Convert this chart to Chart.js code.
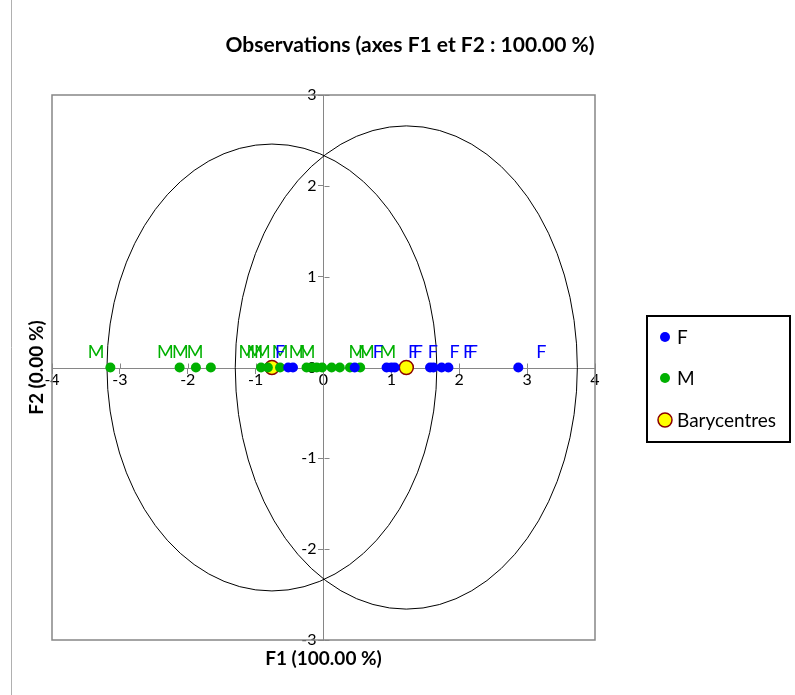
<!DOCTYPE html>
<html>
<head>
<meta charset="utf-8">
<script src="https://cdn.jsdelivr.net/npm/chart.js@4.4.1/dist/chart.umd.min.js"></script>
<style>
  html, body { margin: 0; padding: 0; background: #fff; }
</style>
</head>
<body>
<canvas id="chart" width="795" height="695"></canvas>
<script>
// F1 coordinates of the observations (F2 is 0 for all of them)
const fValues = [-0.52, -0.45, 0.46, 0.93, 1.00, 1.05, 1.57, 1.62, 1.74, 1.84, 2.87];
const mValues = [-3.14, -2.12, -1.88, -1.66, -0.92, -0.82, -0.64, -0.25, -0.17, -0.10, -0.02, 0.12, 0.24, 0.39, 0.54];
const baryNames = ['F', 'M'];
const baryValues = [1.22, -0.76];

// where the observation labels sit along F1
const fLabelPos = [-0.64, 0.80, 1.32, 1.39, 1.61, 1.93, 2.13, 2.20, 3.21];
const mLabelPos = [-3.35, -2.33, -2.11, -1.89, -1.13, -1.01, -0.90, -0.64, -0.39, -0.24, 0.49, 0.63, 0.95];

// confidence ellipses around the barycentres (F, M)
const ellipseCx = [1.22, -0.76];
const ellipseRx = [2.52, 2.43];
const ellipseRy = [2.66, 2.46];

const BLUE = '#0000ff';
const GREEN = '#00b000';
const AXIS = '#868686';
const FONT = 'Lato, "Open Sans", sans-serif';

const toPoints = (vals) => vals.map(v => ({ x: v, y: 0 }));

const overlay = {
  id: 'overlay',
  beforeDraw(chart) {
    const { ctx } = chart;
    ctx.save();
    ctx.fillStyle = '#fff';
    ctx.fillRect(0, 0, chart.width, chart.height);
    // outer frame
    ctx.strokeStyle = '#b0b0b0';
    ctx.lineWidth = 1;
    ctx.beginPath();
    ctx.moveTo(11.5, 0);
    ctx.lineTo(11.5, chart.height);
    ctx.stroke();
    ctx.restore();
  },
  beforeDatasetsDraw(chart) {
    const { ctx, chartArea: a, scales: { x, y } } = chart;
    ctx.save();
    // plot frame
    ctx.strokeStyle = AXIS;
    ctx.lineWidth = 1.5;
    ctx.strokeRect(a.left, a.top, a.right - a.left, a.bottom - a.top);
    // other half of the tick marks, so they cross the axes
    ctx.lineWidth = 1;
    const x0 = Math.round(x.getPixelForValue(0)) + 0.5;
    const y0 = Math.round(y.getPixelForValue(0)) + 0.5;
    ctx.beginPath();
    x.ticks.forEach(t => {
      const px = Math.round(x.getPixelForValue(t.value)) + 0.5;
      ctx.moveTo(px, y0);
      ctx.lineTo(px, y0 - 5);
    });
    y.ticks.forEach(t => {
      const py = Math.round(y.getPixelForValue(t.value)) + 0.5;
      ctx.moveTo(x0, py);
      ctx.lineTo(x0 + 5, py);
    });
    ctx.stroke();
    // ellipses
    ctx.strokeStyle = '#000';
    ctx.lineWidth = 1;
    ellipseCx.forEach((cx, i) => {
      const px = x.getPixelForValue(cx);
      const py = y.getPixelForValue(0);
      const rx = x.getPixelForValue(cx + ellipseRx[i]) - px;
      const ry = py - y.getPixelForValue(ellipseRy[i]);
      ctx.beginPath();
      ctx.ellipse(px, py, rx, ry, 0, 0, Math.PI * 2);
      ctx.stroke();
    });
    // observation labels
    ctx.font = '18px ' + FONT;
    ctx.textAlign = 'center';
    ctx.textBaseline = 'middle';
    const ly = y.getPixelForValue(0) - 15;
    ctx.fillStyle = GREEN;
    mLabelPos.forEach(v => ctx.fillText('M', x.getPixelForValue(v), ly));
    ctx.fillStyle = BLUE;
    fLabelPos.forEach(v => ctx.fillText('F', x.getPixelForValue(v), ly));
    ctx.restore();
  },
  afterDraw(chart) {
    const { ctx, chartArea: a } = chart;
    ctx.save();
    ctx.fillStyle = '#000';
    ctx.textAlign = 'center';
    ctx.textBaseline = 'middle';
    ctx.font = 'bold 21px ' + FONT;
    ctx.fillText('Observations (axes F1 et F2 : 100.00 %)', 410, 45);
    ctx.font = 'bold 19px ' + FONT;
    ctx.fillText('F1 (100.00 %)', (a.left + a.right) / 2, 659);
    ctx.translate(37, (a.top + a.bottom) / 2);
    ctx.rotate(-Math.PI / 2);
    ctx.fillText('F2 (0.00 %)', 0, 0);
    ctx.restore();

    // legend
    ctx.save();
    ctx.strokeStyle = '#000';
    ctx.lineWidth = 2;
    ctx.strokeRect(647, 316, 143, 126);
    ctx.font = '19px ' + FONT;
    ctx.textBaseline = 'middle';
    ctx.textAlign = 'left';
    const rows = [337, 378, 420];
    chart.data.datasets.forEach((ds, i) => {
      ctx.beginPath();
      ctx.arc(665, rows[i], ds.pointRadius, 0, Math.PI * 2);
      ctx.fillStyle = ds.backgroundColor;
      ctx.fill();
      if (ds.borderWidth) {
        ctx.lineWidth = ds.borderWidth;
        ctx.strokeStyle = ds.borderColor;
        ctx.stroke();
      }
      ctx.fillStyle = '#000';
      ctx.fillText(ds.label, 677, rows[i] + 1);
    });
    ctx.restore();
  }
};

const tickFont = { family: FONT, size: 16 };

new Chart(document.getElementById('chart').getContext('2d'), {
  type: 'scatter',
  data: {
    datasets: [
      {
        label: 'F',
        data: toPoints(fValues),
        backgroundColor: BLUE,
        borderColor: BLUE,
        borderWidth: 0,
        pointRadius: 5
      },
      {
        label: 'M',
        data: toPoints(mValues),
        backgroundColor: GREEN,
        borderColor: GREEN,
        borderWidth: 0,
        pointRadius: 5
      },
      {
        label: 'Barycentres',
        data: toPoints(baryValues),
        backgroundColor: '#ffff00',
        borderColor: '#8b0000',
        borderWidth: 1.5,
        pointRadius: 7
      }
    ]
  },
  options: {
    responsive: false,
    animation: false,
    layout: {
      padding: { left: 52, right: 200, top: 95, bottom: 55 }
    },
    plugins: {
      legend: { display: false },
      title: { display: false },
      tooltip: { enabled: false }
    },
    scales: {
      x: {
        type: 'linear',
        min: -4,
        max: 4,
        position: 'center',
        border: { color: AXIS, width: 1 },
        grid: { drawOnChartArea: false, drawTicks: true, tickLength: 5, color: AXIS },
        ticks: { stepSize: 1, padding: -2, color: '#000', font: tickFont, maxRotation: 0 }
      },
      y: {
        type: 'linear',
        min: -3,
        max: 3,
        position: 'center',
        border: { color: AXIS, width: 1 },
        grid: { drawOnChartArea: false, drawTicks: true, tickLength: 5, color: AXIS },
        ticks: { stepSize: 1, padding: 2, color: '#000', font: tickFont }
      }
    }
  },
  plugins: [overlay]
});
</script>
</body>
</html>
